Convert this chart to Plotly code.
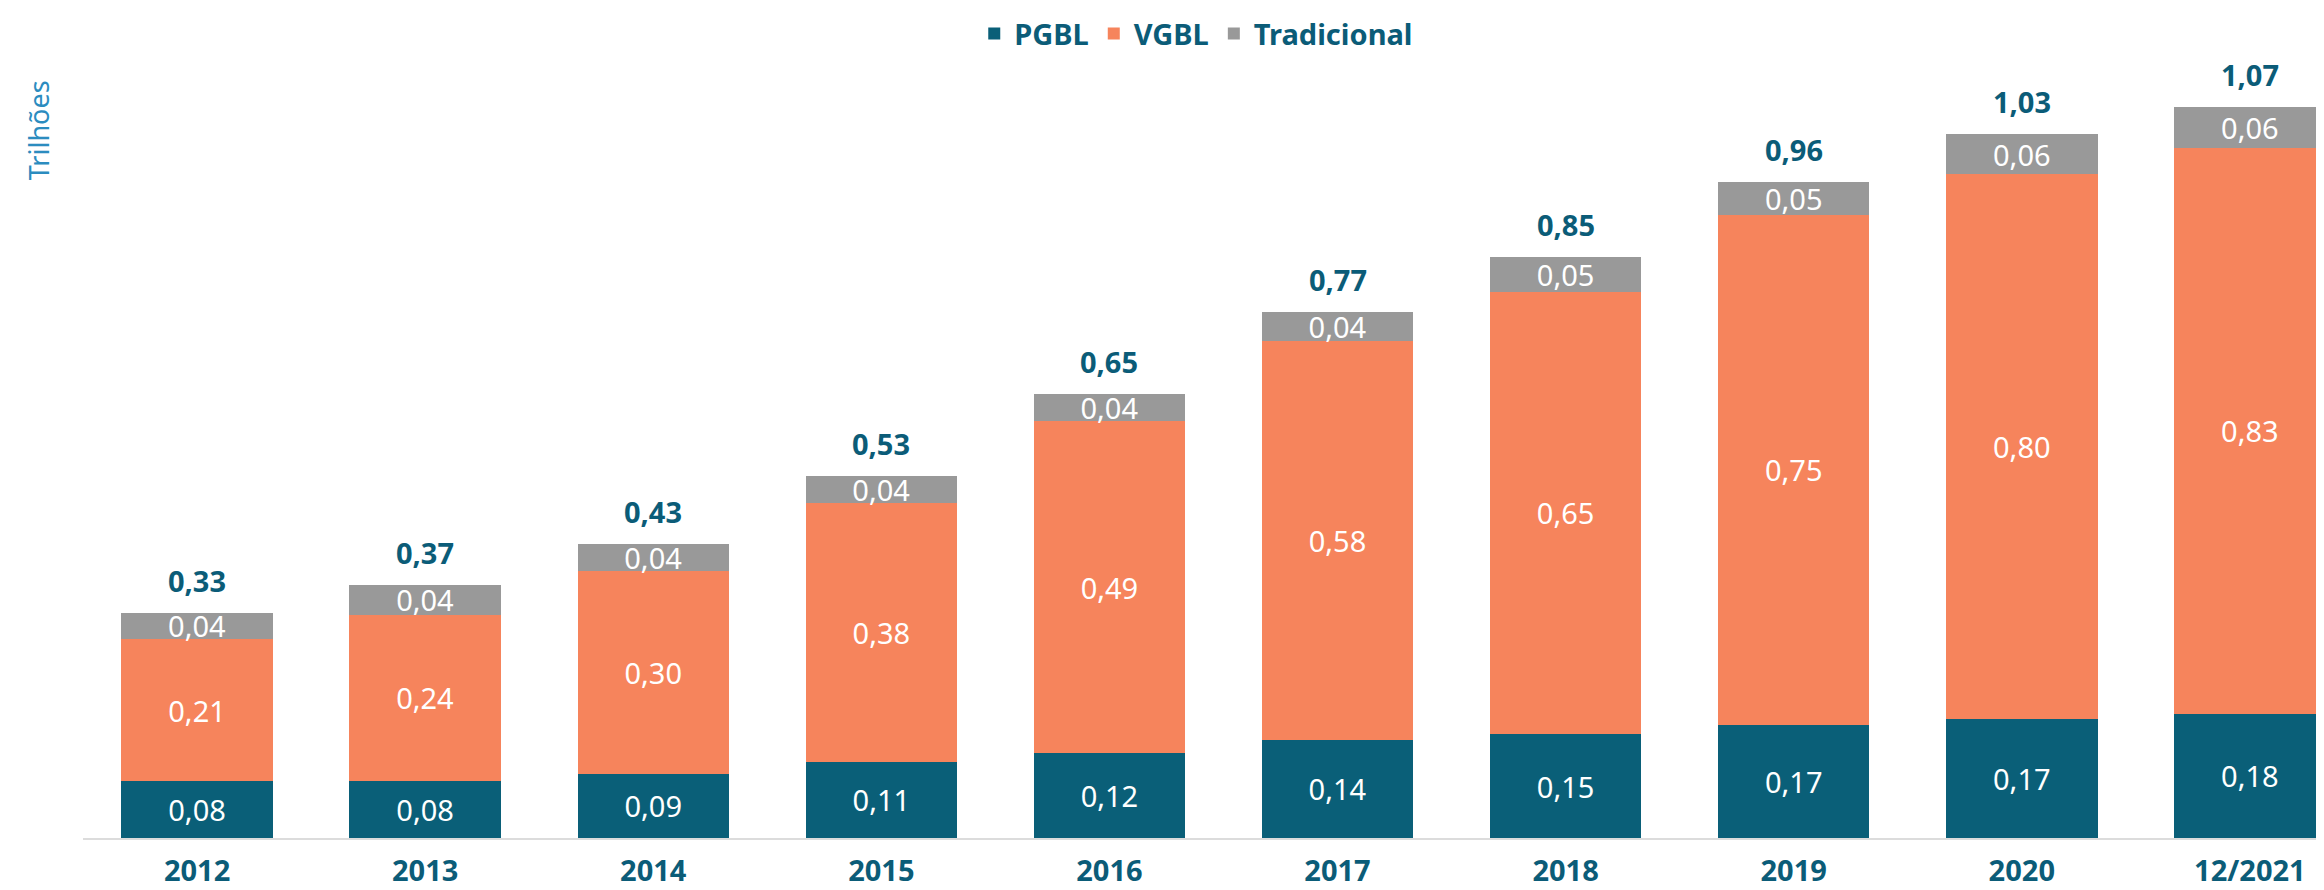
import plotly.graph_objects as go

categories = ["2012", "2013", "2014", "2015", "2016", "2017", "2018", "2019", "2020", "12/2021"]
pgbl = [0.083, 0.083, 0.094, 0.112, 0.124, 0.144, 0.152, 0.166, 0.174, 0.182]
vgbl = [0.208, 0.244, 0.297, 0.378, 0.486, 0.584, 0.648, 0.746, 0.798, 0.828]
tradicional = [0.039, 0.043, 0.039, 0.040, 0.040, 0.042, 0.050, 0.048, 0.058, 0.060]
totals = [round(a + b + c, 3) for a, b, c in zip(pgbl, vgbl, tradicional)]

C_PGBL = "#0a5f78"
C_VGBL = "#f6845c"
C_TRAD = "#999999"
C_TEXT = "#0b5c78"
FONT = "Noto Sans"

fig = go.Figure()
for name, vals, col in [("PGBL", pgbl, C_PGBL), ("VGBL", vgbl, C_VGBL), ("Tradicional", tradicional, C_TRAD)]:
    fig.add_trace(go.Bar(
        name=name, x=categories, y=vals, marker=dict(color=col, line=dict(width=0)),
        texttemplate="%{y:.2f}", textposition="inside", insidetextanchor="middle",
        textangle=0, constraintext="none",
        textfont=dict(family=FONT, size=29, color="white"),
    ))

for i, t in enumerate(totals):
    fig.add_annotation(x=i, y=t, xref="x", yref="y", text=f"{t:.2f}".replace(".", ","),
                       showarrow=False, yanchor="bottom", yshift=11,
                       font=dict(family=FONT, size=29, color=C_TEXT, weight="bold"))

fig.add_annotation(xref="paper", yref="paper", x=-0.020, y=0.878, text="Trilhões",
                   textangle=-90, showarrow=False, xanchor="center", yanchor="middle",
                   font=dict(family=FONT, size=27, color="#2b8cbf"))

fig.update_layout(
    barmode="stack", bargap=0.336, separators=", ",
    width=2324, height=890,
    margin=dict(l=75, r=0, t=10, b=60),
    paper_bgcolor="white", plot_bgcolor="rgba(0,0,0,0)",
    font=dict(family=FONT),
    legend=dict(orientation="h", x=0.495, xanchor="center", y=0.998, yanchor="middle",
                font=dict(family=FONT, size=29, color=C_TEXT, weight="bold"),
                itemwidth=30, traceorder="normal", bgcolor="rgba(0,0,0,0)"),
    xaxis=dict(range=[-0.5, 9.36], showgrid=False, showline=True, linecolor="#dcdcdc", linewidth=2,
               ticks="", ticklabelstandoff=6,
               tickfont=dict(family=FONT, size=29, color=C_TEXT, weight="bold")),
    yaxis=dict(range=[0, 1.18], showgrid=False, showticklabels=False, zeroline=False, showline=False),
)

fig.write_html("out.html")
